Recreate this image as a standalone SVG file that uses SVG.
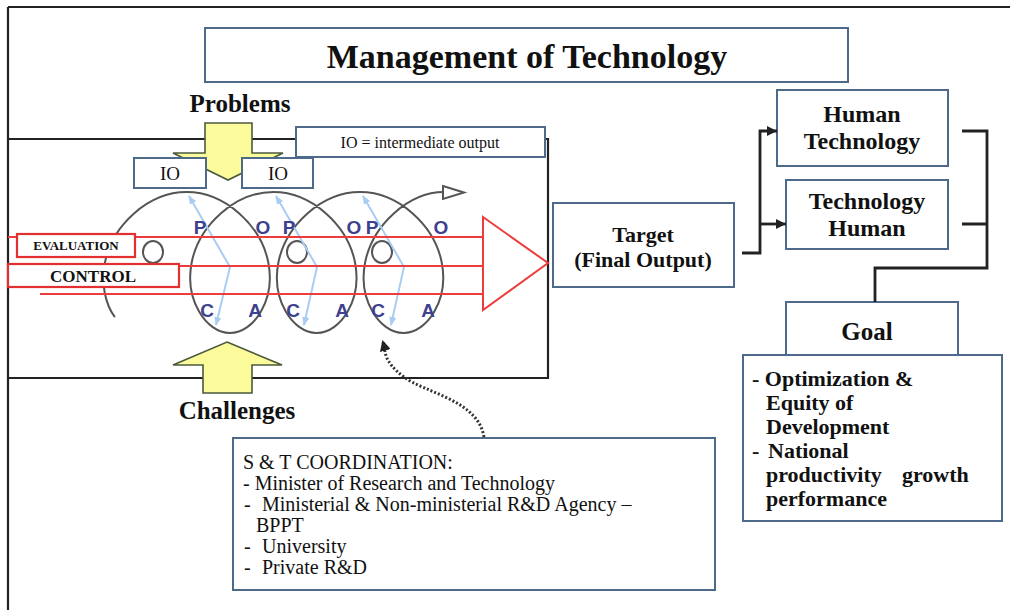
<svg xmlns="http://www.w3.org/2000/svg" width="1010" height="610" viewBox="0 0 1010 610">
<style>
.box{fill:#fff;stroke:#4d6a8a;stroke-width:2}
.rbox{fill:#fff;stroke:#e23030;stroke-width:2.2}
.serif{font-family:"Liberation Serif","Times New Roman",serif;fill:#111}
.b{font-weight:bold}
.mid{text-anchor:middle}
.frame{stroke:#222;stroke-width:2.2;fill:none}
.conn{stroke:#222;stroke-width:2.8;fill:none}
.red{stroke:#ee3b3b;stroke-width:2;fill:none}
.coil{stroke:#555;stroke-width:2;fill:none}
.blue{stroke:#a9cdf2;stroke-width:2;fill:none}
.yel{fill:#fbfb9c;stroke:#4b5a3c;stroke-width:1.6}
.let{font-family:"Liberation Sans",Arial,sans-serif;font-weight:bold;font-size:19px;fill:#3d418e;text-anchor:middle}
</style>
<defs>
<marker id="ah" viewBox="0 0 10 10" refX="10" refY="5" markerWidth="10" markerHeight="10" markerUnits="userSpaceOnUse" orient="auto"><path d="M0,0 L10,5 L0,10 z" fill="#222"/></marker>
<marker id="ahd" viewBox="0 0 10 10" refX="8" refY="5" markerWidth="11" markerHeight="11" markerUnits="userSpaceOnUse" orient="auto"><path d="M0,0 L10,5 L0,10 z" fill="#222"/></marker>
<marker id="ahb" viewBox="0 0 10 10" refX="9" refY="5" markerWidth="9" markerHeight="9" markerUnits="userSpaceOnUse" orient="auto-start-reverse"><path d="M0,1 L10,5 L0,9 z" fill="#a9cdf2"/></marker>
</defs>
<rect width="1010" height="610" fill="#fff"/>

<!-- outer frame lines -->
<path class="frame" d="M8,7 V610 M8,7 H1010"/>

<!-- process area -->
<g id="process">
  <path class="frame" d="M8,139 H548 V378 H8"/>
  <path class="coil" d="M114.84,317.17 C105.15,303.99 100.89,283.37 104.97,262.5 C112.20,225.59 148.01,192 186.65,192 C225.29,192 261.09,225.59 268.32,262.5 C275.55,299.41 254.19,333 230,333 C205.81,333 184.45,299.41 191.68,262.5 C198.91,225.59 234.71,192 273.35,192 C311.99,192 347.80,225.59 355.03,262.5 C362.26,299.41 340.90,333 316.71,333 C292.52,333 271.16,299.41 278.39,262.5 C285.62,225.59 321.42,192 360.06,192 C398.70,192 434.51,225.59 441.74,262.5 C448.97,299.41 427.61,333 403.42,333 C379.23,333 357.87,299.41 365.10,262.5 C372.33,225.59 408.13,192 444,192"/>
  <polygon points="443,186 464,192.5 443,199" fill="#fff" stroke="#555" stroke-width="2"/>
  <ellipse class="coil" cx="153" cy="252" rx="10" ry="11"/>
  <ellipse class="coil" cx="297" cy="252" rx="10" ry="11"/>
  <ellipse class="coil" cx="382" cy="252" rx="10" ry="11"/>
  <path class="blue" d="M189,196 L230,267 L216,325" marker-start="url(#ahb)" marker-end="url(#ahb)"/>
  <path class="blue" d="M276,196 L317,267 L304,325" marker-start="url(#ahb)" marker-end="url(#ahb)"/>
  <path class="blue" d="M363,196 L404,267 L391,325" marker-start="url(#ahb)" marker-end="url(#ahb)"/>
  <path class="red" d="M8,237 H483 M8,266 H483 M40,294 H483"/>
  <polygon points="483,217 548,263 483,310" fill="none" stroke="#ee3b3b" stroke-width="2"/>
  <text class="let" x="200" y="234">P</text>
  <text class="let" x="263" y="234">O</text>
  <text class="let" x="289" y="234">P</text>
  <text class="let" x="354" y="234">O</text>
  <text class="let" x="372" y="234">P</text>
  <text class="let" x="441" y="234">O</text>
  <text class="let" x="207" y="317">C</text>
  <text class="let" x="255" y="317">A</text>
  <text class="let" x="293" y="317">C</text>
  <text class="let" x="342" y="317">A</text>
  <text class="let" x="378" y="317">C</text>
  <text class="let" x="428" y="317">A</text>
</g>

<g id="problems-arrow">
  <polygon class="yel" points="205,123 252,123 252,153 283,153 228,180 173,153 205,153"/>
</g>
<g id="challenges-arrow">
  <polygon class="yel" points="227,342 282,365 252,365 252,393 203,393 203,365 173,365"/>
</g>

<g id="evaluation">
  <rect class="rbox" x="17" y="234" width="118" height="23"/>
  <text class="serif b mid" x="76" y="250" font-size="13">EVALUATION</text>
</g>
<g id="control">
  <rect class="rbox" x="8" y="264" width="171" height="23"/>
  <text class="serif b mid" x="93" y="282" font-size="17">CONTROL</text>
</g>

<g id="io1">
  <rect class="box" x="134" y="158" width="72" height="30"/>
  <text class="serif mid" x="170" y="180" font-size="19">IO</text>
</g>
<g id="io2">
  <rect class="box" x="242" y="158" width="71" height="30"/>
  <text class="serif mid" x="278" y="180" font-size="19">IO</text>
</g>
<g id="io-legend">
  <rect class="box" x="296" y="127" width="249" height="30"/>
  <text class="serif mid" x="420" y="148" font-size="16">IO = intermediate output</text>
</g>

<g id="title">
  <rect class="box" x="205" y="28" width="643" height="54"/>
  <text class="serif b mid" x="527" y="68" font-size="34">Management of Technology</text>
</g>
<g id="problems-label">
  <text class="serif b mid" x="240" y="112" font-size="25">Problems</text>
</g>
<g id="challenges-label">
  <text class="serif b mid" x="237" y="419" font-size="25">Challenges</text>
</g>

<g id="target">
  <rect class="box" x="553" y="203" width="181" height="84"/>
  <text class="serif b mid" x="643" y="242" font-size="22">Target</text>
  <text class="serif b mid" x="643" y="267" font-size="22">(Final Output)</text>
</g>
<g id="human-technology">
  <rect class="box" x="777" y="90" width="171" height="76"/>
  <text class="serif b mid" x="862" y="122" font-size="24">Human</text>
  <text class="serif b mid" x="862" y="149" font-size="24">Technology</text>
</g>
<g id="technology-human">
  <rect class="box" x="786" y="180" width="162" height="69"/>
  <text class="serif b mid" x="867" y="209" font-size="24">Technology</text>
  <text class="serif b mid" x="867" y="236" font-size="24">Human</text>
</g>
<g id="goal">
  <rect class="box" x="786" y="302" width="172" height="53"/>
  <text class="serif b mid" x="867" y="340" font-size="25">Goal</text>
</g>
<g id="goal-list">
  <rect class="box" x="743" y="355" width="259" height="166"/>
  <g class="serif b" font-size="22">
    <text x="752" y="386">- Optimization &amp;</text>
    <text x="766" y="410">Equity of</text>
    <text x="766" y="434">Development</text>
    <text y="458"><tspan x="752">-</tspan><tspan x="768">National</tspan></text>
    <text y="482"><tspan x="766">productivity</tspan><tspan x="902">growth</tspan></text>
    <text x="766" y="506">performance</text>
  </g>
</g>
<g id="st-coordination">
  <rect class="box" x="233" y="438" width="482" height="152"/>
  <g class="serif" font-size="20">
    <text x="243" y="469">S &amp; T COORDINATION:</text>
    <text x="243" y="490">- Minister of Research and Technology</text>
    <text y="511"><tspan x="244">-</tspan><tspan x="262">Ministerial &amp; Non-ministerial R&amp;D Agency –</tspan></text>
    <text x="256" y="532">BPPT</text>
    <text y="553"><tspan x="244">-</tspan><tspan x="262">University</tspan></text>
    <text y="574"><tspan x="244">-</tspan><tspan x="262">Private R&amp;D</tspan></text>
  </g>
</g>

<g id="connectors">
  <path class="conn" d="M742,253 H760 V131 H777" marker-end="url(#ah)"/>
  <path class="conn" d="M760,224 H786" marker-end="url(#ah)"/>
  <path class="conn" d="M962,131 H987 V268 H875 V302 M962,224 H987"/>
  <path d="M484,437 C478,400 425,393 404,377 S386,353 383,342" fill="none" stroke="#333" stroke-width="3" stroke-dasharray="2 2" marker-end="url(#ahd)"/>
</g>
</svg>
